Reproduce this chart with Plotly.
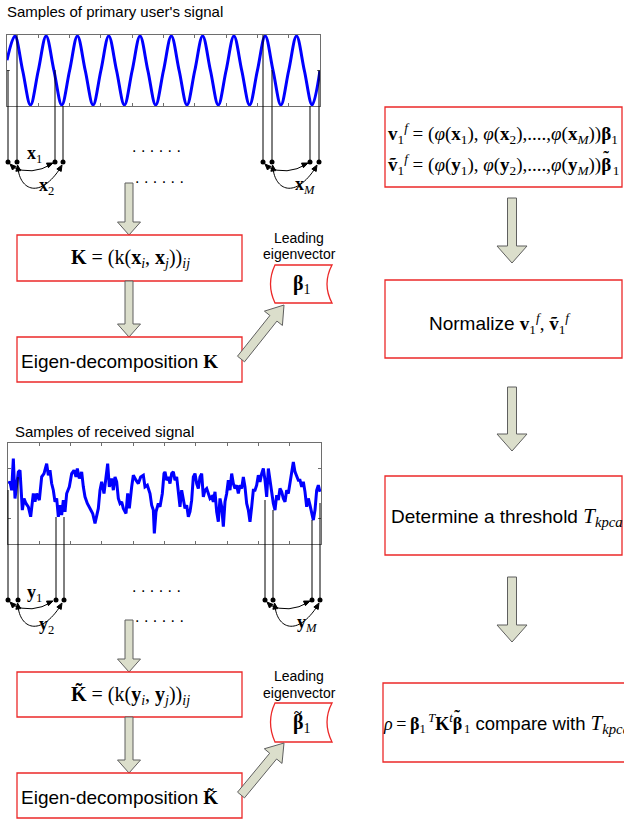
import plotly.graph_objects as go

W, H = 624, 823

# ---------------- data ----------------
# primary user's signal (read at quarter periods)
sine_t = [0, 0.25, 0.5, 0.75, 1, 1.25, 1.5, 1.75, 2, 2.25, 2.5, 2.75, 3, 3.25, 3.5, 3.75,
          4, 4.25, 4.5, 4.75, 5, 5.25, 5.5, 5.75, 6, 6.25, 6.5, 6.75, 7, 7.25, 7.5, 7.75,
          8, 8.25, 8.5, 8.75, 9, 9.25, 9.5, 9.75, 10]
sine_amp = [0.3, 1, 0, -1, 0, 1, 0, -1, 0, 1, 0, -1, 0, 1, 0, -1,
            0, 1, 0, -1, 0, 1, 0, -1, 0, 1, 0, -1, 0, 1, 0, -1,
            0, 1, 0, -1, 0, 1, 0, -1, 0]

# received (noisy) signal
noise_t = [1, 6, 11, 16, 21, 26, 31, 36, 39, 43, 48, 54, 61, 68, 76, 81, 86, 94, 101, 108,
           116, 121, 126, 131, 136, 141, 146, 151, 156, 161, 166, 171, 176, 184, 191, 198,
           204, 208, 214, 221, 226, 231, 238, 246, 254, 261, 266, 271, 276, 281, 288, 294,
           299, 304, 311, 316, 321, 326, 331, 336, 341, 346, 354, 359, 364, 371, 376, 384,
           391, 398, 406, 411, 418, 426, 431, 436, 439, 444, 451, 456, 463, 468,
           471, 476, 481, 486, 491, 496, 501, 506, 511, 516, 521, 526, 531, 536, 541, 546,
           551, 556, 561, 566, 571, 576, 581, 586, 591, 596, 601, 606, 611, 616, 621, 626,
           631, 636, 641, 646, 651, 656, 661, 666, 671, 676, 681, 686, 691, 696, 701, 706,
           711, 716, 721, 726, 731, 736, 741, 746, 751, 756, 761, 766, 771, 776, 781, 786,
           791, 796, 801, 806, 811, 816, 821, 826, 831, 836, 841, 846, 851, 856, 861, 866,
           871, 876, 881, 886, 891, 896, 901, 906, 911, 916, 921, 926, 931, 936]
noise_amp = [30, 35, 10, 105, -15, 35, 65, 70, 10, -50, -15, -30, -40, -70, 0, -25, 0, -20, 50, 60,
             90, 55, 70, 30, 10, -25, -15, -70, -35, -65, -20, -55, 0, 20, 60, 70,
             50, 75, 45, 65, 20, -10, -30, -45, -60, -90, -70, -45, 10, 35, 0, 50,
             90, 20, 45, 10, 50, 35, -15, -30, -25, -45, -60, 0, -45, 20, 55, 40,
             30, 50, 55, 20, 25, 0, -35, -50, -120, -55, -30, -40, 0, 60,
             65, 40, 50, 30, 60, 65, 40, 50, -5, -40, 10, -15, -45, -35, -70, -55,
             -20, 50, 60, 30, 15, 50, 60, -10, 10, 15, 0, -15, -10, -25, 5, -55,
             -85, -15, -40, -100, -25, 0, 40, 10, 60, 30, 15, 25, 0, 25, 15, 50,
             20, -30, -50, -85, -40, 10, 10, 25, 55, 35, 60, 75, 40, -10, 75, 35,
             0, -30, -50, -5, -20, 15, 5, -15, -25, 10, 0, 30, 60, 95, 65, 55,
             40, 40, 20, 35, 5, -40, -15, -35, -55, -80, -50, 10, 25, 5]

# text labels
title_primary = "Samples of primary user's signal"
title_received = "Samples of received signal"

SANS = "Liberation Sans, Arial, sans-serif"
SERIF = "Liberation Serif, Times New Roman, serif"
RED = "rgb(236,40,40)"
ARROW_FILL = "rgb(219,222,203)"
ARROW_LINE = "rgb(95,95,95)"

fig = go.Figure()

# signal traces
fig.add_trace(go.Scatter(x=sine_t, y=sine_amp, mode="lines", line=dict(color="#0000ff", width=3, shape="spline"),
                         xaxis="x2", yaxis="y2", hoverinfo="skip"))
fig.add_trace(go.Scatter(x=noise_t, y=noise_amp, mode="lines", line=dict(color="#0000ff", width=3),
                         xaxis="x3", yaxis="y3", hoverinfo="skip"))

shapes = []
annotations = []


def rect(x0, y0, x1, y1):
    shapes.append(dict(type="rect", xref="x", yref="y", x0=x0, y0=y0, x1=x1, y1=y1,
                       line=dict(color=RED, width=1.3), fillcolor="white", layer="above"))


def path(d, fill=None, color="black", width=1):
    s = dict(type="path", xref="x", yref="y", path=d, line=dict(color=color, width=width), layer="above")
    if fill:
        s["fillcolor"] = fill
    shapes.append(s)


def block_arrow(x0, y0, x1, y1, sw, hw, hl):
    dx, dy = x1 - x0, y1 - y0
    L = (dx * dx + dy * dy) ** 0.5
    ux, uy = dx / L, dy / L
    nx, ny = -uy, ux
    neckx, necky = x1 - ux * hl, y1 - uy * hl
    pts = [(x0 + nx * sw / 2, y0 + ny * sw / 2), (neckx + nx * sw / 2, necky + ny * sw / 2),
           (neckx + nx * hw / 2, necky + ny * hw / 2), (x1, y1),
           (neckx - nx * hw / 2, necky - ny * hw / 2), (neckx - nx * sw / 2, necky - ny * sw / 2),
           (x0 - nx * sw / 2, y0 - ny * sw / 2)]
    d = "M " + " L ".join(f"{px:.2f},{py:.2f}" for px, py in pts) + " Z"
    path(d, fill=ARROW_FILL, color=ARROW_LINE, width=1)


def head(tx, ty, fx, fy, L=6, Wd=5):
    dx, dy = tx - fx, ty - fy
    n = (dx * dx + dy * dy) ** 0.5
    ux, uy = dx / n, dy / n
    nx, ny = -uy, ux
    bx, by = tx - ux * L, ty - uy * L
    d = (f"M {tx:.2f},{ty:.2f} L {bx + nx * Wd / 2:.2f},{by + ny * Wd / 2:.2f} "
         f"L {bx - nx * Wd / 2:.2f},{by - ny * Wd / 2:.2f} Z")
    path(d, fill="black", color="black", width=1)


def text(x, y, t, size=18, family=SANS, xanchor="center", color="black"):
    annotations.append(dict(x=x, y=y, xref="x", yref="y", text=t, showarrow=False,
                            xanchor=xanchor, yanchor="middle", font=dict(size=size, family=family, color=color)))


def sample_group(xs, starts, ybot):
    for x, ys in zip(xs, starts):
        shapes.append(dict(type="line", xref="x", yref="y", x0=x, x1=x, y0=ys, y1=ybot,
                           line=dict(color="black", width=1), layer="above"))
    fig.add_trace(go.Scatter(x=xs, y=[ybot] * len(xs), mode="markers",
                             marker=dict(color="black", size=5), xaxis="x", yaxis="y", hoverinfo="skip"))
    for g in (0, 4):
        x0 = xs[g]
        # curve A
        path(f"M {x0 + 4},{ybot + 5} Q {x0 + 24},{ybot + 14} {x0 + 44},{ybot + 2}")
        head(x0 + 2, ybot + 2, x0 + 7, ybot + 7)
        head(x0 + 45, ybot + 1, x0 + 38, ybot + 4)
        # curve B
        path(f"M {x0 + 10},{ybot + 6} C {x0 + 12},{ybot + 28} {x0 + 32},{ybot + 38} {x0 + 53},{ybot + 5}")
        head(x0 + 9.5, ybot + 3, x0 + 10.5, ybot + 10)
        head(x0 + 54, ybot + 3, x0 + 50, ybot + 10)


# beta with tilde drawn inline (tilde pulled back over the beta)
BT = ("<span style='letter-spacing:-8px'><b>β</b></span>"
      "<sup><span style='font-size:17px;letter-spacing:4px'><b>˜</b></span></sup>")

# ---------- top (primary user) ----------
text(5, 11, title_primary, size=15, xanchor="left")
sample_group([8, 17, 55, 63, 263, 272, 310, 319], [70, 35, 70, 106, 35, 70, 106, 70], 162)
text(25, 154, "<b>x</b><sub>1</sub>", size=18, family=SERIF, xanchor="left")
text(37, 186, "<b>x</b><sub>2</sub>", size=18, family=SERIF, xanchor="left")
text(293, 185, "<b>x</b><sub><i>M</i></sub>", size=18, family=SERIF, xanchor="left")
text(156, 146, ". . . . . .", size=16)
text(159, 177, ". . . . . .", size=16)

block_arrow(129, 183, 129, 235, 8, 23, 13)
rect(17, 235, 242, 281)
text(130, 258, "<b>K</b> = (k(<b>x</b><sub><i>i</i></sub>, <b>x</b><sub><i>j</i></sub>))<sub><i>ij</i></sub>",
     size=20, family=SERIF)
block_arrow(129, 281, 129, 337, 8, 23, 13)
rect(17, 337, 242, 382)
text(19, 361, f"Eigen-decomposition<span style='font-family:{SERIF}'> <b>K</b></span>", size=19, xanchor="left")
text(299, 238, "Leading", size=14)
text(299, 254, "eigenvector", size=14)
path("M 275,265 L 332,265 Q 322,284 332,303 L 275,303 Q 266,284 275,265 Z", fill="white", color=RED, width=1.3)
text(302, 284, "<b>β</b><sub>1</sub>", size=20, family=SERIF)
block_arrow(241, 359, 284, 305, 9, 23, 17)

# ---------- bottom (received) ----------
text(13, 431, title_received, size=15, xanchor="left")
sample_group([8, 18, 56, 64, 265, 273, 312, 320], [490, 477, 517, 517, 500, 510, 520, 503], 600)
text(25, 593, "<b>y</b><sub>1</sub>", size=18, family=SERIF, xanchor="left")
text(37, 625, "<b>y</b><sub>2</sub>", size=18, family=SERIF, xanchor="left")
text(295, 623, "<b>y</b><sub><i>M</i></sub>", size=18, family=SERIF, xanchor="left")
text(156, 586, ". . . . . .", size=16)
text(159, 616, ". . . . . .", size=16)

block_arrow(129, 620, 129, 672, 8, 23, 13)
rect(17, 672, 242, 717)
text(130, 695, "<b>K̃</b> = (k(<b>y</b><sub><i>i</i></sub>, <b>y</b><sub><i>j</i></sub>))<sub><i>ij</i></sub>",
     size=20, family=SERIF)
block_arrow(129, 717, 129, 773, 8, 23, 13)
rect(17, 773, 242, 818)
text(19, 797, f"Eigen-decomposition<span style='font-family:{SERIF}'> <b>K̃</b></span>", size=19, xanchor="left")
text(299, 676, "Leading", size=14)
text(299, 693, "eigenvector", size=14)
path("M 275,703 L 332,703 Q 322,722 332,742 L 275,742 Q 266,722 275,703 Z", fill="white", color=RED, width=1.3)
text(302, 723, "<b>β</b><sub>1</sub>", size=20, family=SERIF)
text(298, 713, "<b>~</b>", size=15, family=SERIF)
block_arrow(241, 795, 284, 743, 9, 23, 17)

# ---------- right column ----------
rect(385, 107, 622, 187)
text(503, 133, "<b>v</b><sub>1</sub><sup><i>f</i></sup> = (<i>φ</i>(<b>x</b><sub>1</sub>), <i>φ</i>(<b>x</b><sub>2</sub>),....,"
     "<i>φ</i>(<b>x</b><sub><i>M</i></sub>))<b>β</b><sub>1</sub>", size=19, family=SERIF)
text(503, 163, "<b>ṽ</b><sub>1</sub><sup><i>f</i></sup> = (<i>φ</i>(<b>y</b><sub>1</sub>), <i>φ</i>(<b>y</b><sub>2</sub>),....,"
     f"<i>φ</i>(<b>y</b><sub><i>M</i></sub>)){BT}<sub>1</sub>", size=19, family=SERIF)
block_arrow(512, 198, 512, 263, 9, 30, 17)
rect(385, 280, 622, 358)
text(500, 323, f"Normalize <span style='font-family:{SERIF}'><b>v</b><sub>1</sub><sup><i>f</i></sup>, "
     f"<b>ṽ</b><sub>1</sub><sup><i>f</i></sup></span>", size=19)
block_arrow(512, 387, 512, 451, 9, 30, 17)
rect(385, 476, 622, 555)
text(389, 517, f"Determine a threshold <span style='font-family:{SERIF};font-size:21px'><i>T</i>"
     f"<sub><i>kpca</i></sub></span>", size=19, xanchor="left")
block_arrow(512, 577, 512, 642, 9, 30, 17)
rect(383, 683, 632, 762)
text(381, 722, f"<span style='font-family:{SERIF};font-size:18px'><i>ρ</i>\u2009=\u2009<b>β</b><sub>1</sub>"
     f"<span style='letter-spacing:-2px'> </span><sup><i>T</i></sup>"
     f"<b>K</b><sup><i>t</i></sup>{BT}<sub>1</sub></span> compare with "
     f"<span style='font-family:{SERIF};font-size:21px'><i>T</i><sub><i>kpca</i></sub></span>",
     size=18.5, xanchor="left")

box_axis = dict(showline=True, mirror="ticks", linecolor="rgb(110,110,110)", linewidth=1,
                ticks="inside", ticklen=3, tickcolor="rgb(110,110,110)", showticklabels=False,
                showgrid=False, zeroline=False, fixedrange=True)

fig.update_layout(
    width=W, height=H, margin=dict(l=0, r=0, t=0, b=0),
    paper_bgcolor="white", plot_bgcolor="rgba(0,0,0,0)", showlegend=False,
    xaxis=dict(domain=[0, 1], range=[0, W], visible=False, fixedrange=True),
    yaxis=dict(domain=[0, 1], range=[H, 0], visible=False, fixedrange=True),
    xaxis2=dict(box_axis, domain=[7 / W, 320 / W], range=[0, 10], anchor="y2",
                tickvals=[1, 2, 3, 4, 5, 6, 7, 8, 9]),
    yaxis2=dict(box_axis, domain=[1 - 106 / H, 1 - 35 / H], range=[-1.03, 1.03], anchor="x2",
                tickvals=[0]),
    xaxis3=dict(box_axis, domain=[8 / W, 321 / W], range=[0, 939], anchor="y3",
                tickvals=[93.9 * k for k in range(1, 10)]),
    yaxis3=dict(box_axis, domain=[1 - 544 / H, 1 - 443 / H], range=[-152, 152], anchor="x3",
                tickvals=[-75, 75]),
    shapes=shapes, annotations=annotations,
)

fig.write_html("out.html", config={"displayModeBar": False},
               post_script="document.body.style.margin='0px';document.body.style.overflow='hidden';")
